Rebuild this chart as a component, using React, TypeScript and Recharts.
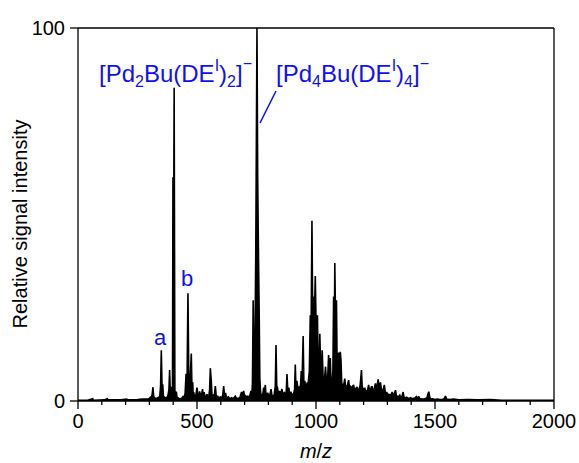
import React from 'react';
import { ComposedChart, Area, XAxis, YAxis, ReferenceLine } from 'recharts';

// m/z positions of the profile points
const mzValues = [
  0, 40, 62, 64, 110, 123, 126, 180, 205, 208,
  250, 270, 290, 298, 304, 308, 312, 315, 318, 322,
  330, 339, 343, 347, 350, 353, 356, 359, 367, 372,
  378, 382, 385, 388, 392, 395, 397, 399, 401, 404,
  407, 410, 413, 416, 420, 426, 432, 437, 441, 445,
  450, 454, 458, 462, 466, 470, 476, 479, 482, 484,
  486, 490, 495, 500, 504, 508, 511, 515, 519, 523,
  527, 530, 534, 538, 542, 546, 550, 553, 556, 560,
  563, 568, 572, 577, 581, 587, 592, 598, 603, 608,
  612, 616, 620, 624, 632, 638, 646, 652, 661, 666,
  675, 680, 687, 691, 696, 700, 703, 708, 713, 718,
  722, 727, 731, 733, 736, 739, 743, 747, 752, 755,
  758, 761, 764, 767, 769, 773, 777, 780, 783, 787,
  790, 794, 797, 801, 806, 811, 815, 820, 824, 829,
  832, 835, 838, 842, 846, 850, 853, 857, 861, 864,
  867, 871, 875, 878, 882, 886, 889, 894, 898, 903,
  906, 910, 913, 916, 920, 924, 927, 931, 934, 938,
  941, 946, 949, 953, 956, 960, 963, 966, 969, 972,
  976, 979, 983, 986, 990, 993, 997, 1001, 1006, 1009,
  1013, 1016, 1020, 1023, 1026, 1030, 1033, 1036, 1040, 1044,
  1048, 1053, 1056, 1060, 1063, 1066, 1069, 1071, 1074, 1077,
  1079, 1083, 1086, 1089, 1092, 1095, 1098, 1102, 1105, 1108,
  1112, 1117, 1121, 1124, 1128, 1132, 1137, 1140, 1144, 1148,
  1152, 1158, 1162, 1166, 1172, 1176, 1180, 1185, 1188, 1191,
  1194, 1198, 1201, 1205, 1209, 1213, 1217, 1221, 1225, 1229,
  1233, 1236, 1240, 1244, 1247, 1250, 1254, 1258, 1261, 1265,
  1268, 1271, 1275, 1280, 1284, 1287, 1291, 1294, 1297, 1302,
  1306, 1311, 1316, 1320, 1324, 1328, 1334, 1338, 1343, 1348,
  1352, 1356, 1361, 1366, 1370, 1375, 1380, 1386, 1390, 1397,
  1404, 1410, 1418, 1422, 1427, 1432, 1436, 1440, 1448, 1456,
  1466, 1470, 1474, 1478, 1484, 1490, 1500, 1510, 1520, 1530,
  1538, 1544, 1549, 1560, 1579, 1600, 1637, 1680, 1733, 1780,
  1850, 1920, 2000,
];

// relative intensity at each m/z above (same order)
const intensityValues = [
  0.2, 0.2, 0.6, 0.2, 0.3, 0.6, 0.3, 0.3, 0.5, 0.3,
  0.4, 0.5, 0.5, 0.6, 1.0, 0.6, 2, 3.7, 1.2, 0.8,
  0.7, 1.0, 0.8, 4, 13.6, 4, 4.5, 1.2, 0.9, 0.7,
  1.5, 3, 8.3, 2, 3.8, 1.5, 3, 60, 30, 84,
  3, 1.2, 2.5, 1, 0.9, 0.6, 0.6, 0.8, 1.2, 0.9,
  2, 7.3, 4, 28.9, 3, 4, 12.7, 3, 5, 1.5,
  2.4, 1, 1.5, 3.6, 1.5, 1.2, 2.6, 1.4, 1.6, 3.2,
  1.4, 2.4, 1, 1.2, 1.8, 0.8, 1.5, 3, 8.8, 5.4,
  1.5, 1.6, 1, 4, 1.2, 1.3, 0.7, 1.1, 0.8, 1.5,
  4, 1.2, 2.2, 0.8, 1.1, 0.6, 0.9, 0.6, 1.3, 0.7,
  0.8, 0.9, 2.4, 1.3, 2.7, 1.2, 1.6, 1, 1.3, 1.1,
  1.5, 2.7, 2, 5, 27, 9, 12, 40, 100, 60,
  41, 25, 6, 2.5, 1.8, 1.4, 2, 3.6, 2, 4.3,
  1.6, 1.5, 2.2, 1.4, 1.6, 3.2, 1.5, 1.3, 1.6, 4,
  15, 4, 3.6, 1.8, 2.7, 1.6, 2.4, 3.2, 1.8, 2,
  2.2, 1.6, 2.5, 7.2, 2.2, 3.6, 1.8, 2.5, 1.8, 1.8,
  2, 3, 9.8, 3, 5.4, 3, 3.2, 4, 3, 8,
  4, 17.4, 5, 5.4, 3.8, 4, 5, 4, 5.9, 8,
  23, 15, 48.3, 24, 28, 22, 33.5, 18, 23, 10,
  8, 18, 8, 7, 13.6, 6, 5, 6, 9.2, 5,
  4.5, 12.3, 8, 11.5, 5, 4.5, 6, 8, 28, 16,
  37, 18, 27, 8, 6, 13, 5, 13.2, 11, 5,
  4, 4.5, 6, 4, 3.8, 4.2, 5.6, 4, 4, 3.5,
  3.8, 4.3, 3, 3.2, 3.8, 2.8, 3, 4, 6, 8.3,
  4, 3, 3.2, 3.4, 2.6, 2.6, 3, 4.3, 2.8, 3,
  3.8, 3.8, 2.5, 3, 4, 4.7, 3.5, 4.5, 5.8, 4,
  4.2, 5, 3, 2.6, 3.5, 4.3, 2.5, 2, 2.4, 1.6,
  1.8, 1.5, 1.8, 2.4, 1.5, 1.8, 2.9, 1.4, 1.2, 1.3,
  1.6, 1, 1.2, 2.4, 1, 0.8, 1, 0.8, 0.6, 0.9,
  0.6, 0.7, 0.9, 1.2, 0.7, 1.2, 0.6, 0.6, 0.5, 0.6,
  0.8, 1.8, 2.5, 1, 0.5, 0.6, 0.4, 0.5, 0.4, 0.4,
  0.6, 1.3, 0.5, 0.4, 0.5, 0.3, 0.4, 0.3, 0.4, 0.2,
  0.2, 0.2, 0.2,
];

const xTicks = [
  0, 100, 200, 300, 400, 500, 600, 700, 800, 900, 1000,
  1100, 1200, 1300, 1400, 1500, 1600, 1700, 1800, 1900, 2000,
];
const yTicks = [0, 100];

const spectrum = mzValues.map((mz, i) => ({ mz, value: intensityValues[i] }));

const W = 579;
const H = 463;
const BLUE = '#1010f0';
const FONT = '"Liberation Sans", Arial, sans-serif';

const XTick = (props: any) => {
  const { x, y, payload } = props;
  const major = payload.value % 500 === 0;
  return (
    <g>
      <line x1={x} x2={x} y1={y} y2={y + (major ? 8 : 4)} stroke="#000" strokeWidth={1.3} />
      {major && (
        <text x={x} y={y + 27} textAnchor="middle" fontSize={20} fill="#000" fontFamily={FONT}>
          {payload.value}
        </text>
      )}
    </g>
  );
};

export default function App() {
  return (
    <div style={{ position: 'absolute', left: 0, top: 0, width: W, height: H, background: '#fff', fontFamily: FONT }}>
      <ComposedChart width={W} height={H} data={spectrum} margin={{ top: 28, right: 25, left: 0, bottom: 0 }}>
        <XAxis
          dataKey="mz"
          type="number"
          domain={[0, 2000]}
          ticks={xTicks}
          interval={0}
          tick={<XTick />}
          tickLine={false}
          tickSize={0}
          tickMargin={0}
          height={62}
          axisLine={{ stroke: '#000', strokeWidth: 1.3 }}
        />
        <YAxis
          type="number"
          domain={[0, 100]}
          ticks={yTicks}
          width={78}
          tickSize={8}
          tickMargin={5}
          tickLine={{ stroke: '#000', strokeWidth: 1.3 }}
          axisLine={{ stroke: '#000', strokeWidth: 1.3 }}
          tick={{ fill: '#000', fontSize: 20, fontFamily: FONT }}
        />
        <ReferenceLine y={100} stroke="#000" strokeWidth={1.3} />
        <ReferenceLine x={2000} stroke="#000" strokeWidth={1.3} />
        <Area
          dataKey="value"
          type="linear"
          stroke="#000"
          strokeWidth={1.6}
          strokeLinejoin="miter"
          strokeMiterlimit={2}
          fill="#000"
          fillOpacity={1}
          dot={false}
          activeDot={false}
          isAnimationActive={false}
        />
      </ComposedChart>

      <svg width={W} height={H} style={{ position: 'absolute', left: 0, top: 0, pointerEvents: 'none' }} fontFamily={FONT}>
        <text transform="translate(27,224) rotate(-90)" textAnchor="middle" fontSize={20} fill="#000">
          Relative signal intensity
        </text>
        <text x={316} y={458} textAnchor="middle" fontSize={20} fill="#000">
          <tspan fontStyle="italic">m</tspan>/<tspan fontStyle="italic">z</tspan>
        </text>

        <text x={99} y={82} fontSize={24} fill={BLUE}>
          [Pd<tspan fontSize={16} dy={5}>2</tspan>
          <tspan dy={-5}>Bu(DE</tspan>
          <tspan fontSize={16} dy={-11}>I</tspan>
          <tspan dy={11}>)</tspan>
          <tspan fontSize={16} dy={5}>2</tspan>
          <tspan dy={-5}>]</tspan>
          <tspan fontSize={16} dy={-13}>−</tspan>
        </text>
        <text x={276} y={82} fontSize={24} fill={BLUE}>
          [Pd<tspan fontSize={16} dy={5}>4</tspan>
          <tspan dy={-5}>Bu(DE</tspan>
          <tspan fontSize={16} dy={-11}>I</tspan>
          <tspan dy={11}>)</tspan>
          <tspan fontSize={16} dy={5}>4</tspan>
          <tspan dy={-5}>]</tspan>
          <tspan fontSize={16} dy={-13}>−</tspan>
        </text>
        <line x1={260} y1={123} x2={276} y2={91} stroke={BLUE} strokeWidth={1.5} />
        <text x={154} y={345} fontSize={22} fill={BLUE}>a</text>
        <text x={181} y={286} fontSize={22} fill={BLUE}>b</text>
      </svg>
    </div>
  );
}
